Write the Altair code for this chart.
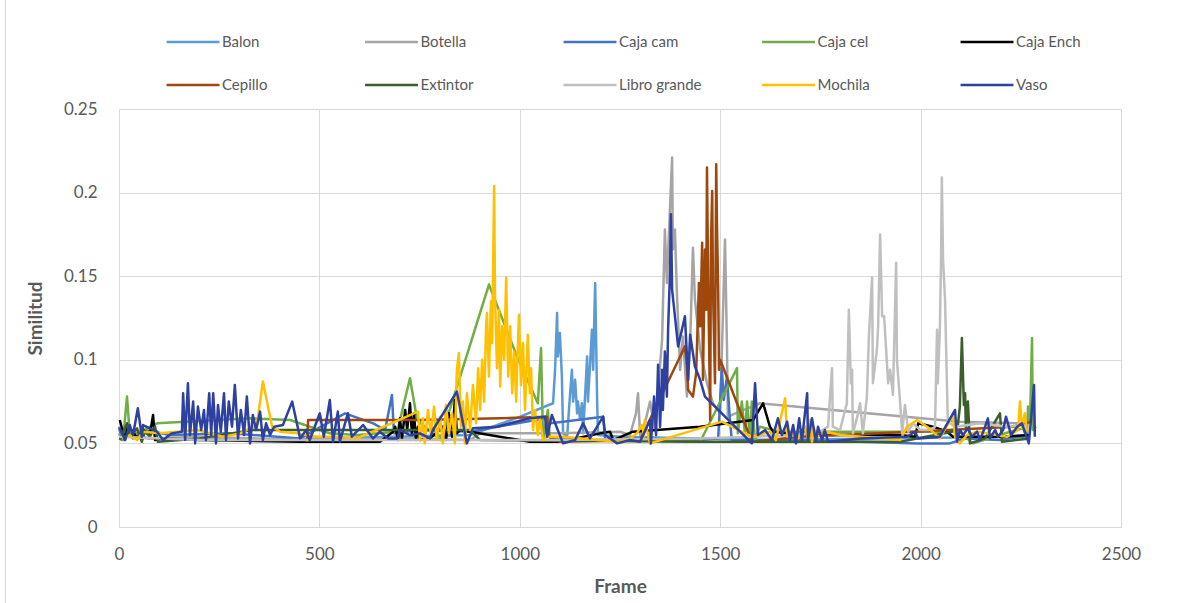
import altair as alt
import pandas as pd

# Similarity per frame for each tracked object
series_names = ["Balon", "Botella", "Caja cam", "Caja cel", "Caja Ench",
                "Cepillo", "Extintor", "Libro grande", "Mochila", "Vaso"]
series_colors = ["#5B9BD5", "#A5A5A5", "#4472C4", "#70AD47", "#000000",
                 "#9E480E", "#3B5E2B", "#BFBFBF", "#FFC000", "#2E40A0"]

balon_frame = [0, 77, 327, 876, 1001, 1083, 1088, 1093, 1095, 1100, 1105, 1108, 1118, 1125, 1130,
               1133, 1138, 1143, 1145, 1150, 1155, 1158, 1168, 1170, 1175, 1180, 1183, 1188, 1193,
               1195, 1250, 1450, 1599, 2273]
balon_sim = [0.055, 0.053, 0.052, 0.055, 0.066, 0.074, 0.094, 0.128, 0.102, 0.116, 0.090, 0.056, 0.054,
             0.078, 0.094, 0.075, 0.088, 0.068, 0.075, 0.065, 0.074, 0.056, 0.102, 0.075, 0.096, 0.118,
             0.094, 0.146, 0.075, 0.055, 0.054, 0.053, 0.052, 0.054]

botella_frame = [0, 77, 202, 452, 701, 876, 901, 1100, 1250, 1275, 1290, 1295, 1300, 1312, 1325, 1337,
                 1355, 1362, 1367, 1380, 1382, 1387, 1392, 1400, 1407, 1417, 1425, 1432, 1437, 1450,
                 1467, 1482, 1500, 1512, 1517, 1519, 1599, 2098, 2248]
botella_sim = [0.056, 0.053, 0.054, 0.052, 0.053, 0.052, 0.056, 0.056, 0.057, 0.055, 0.068, 0.080, 0.055,
               0.062, 0.075, 0.058, 0.112, 0.178, 0.146, 0.221, 0.166, 0.178, 0.140, 0.094, 0.114, 0.078,
               0.110, 0.167, 0.136, 0.106, 0.086, 0.074, 0.068, 0.172, 0.106, 0.066, 0.074, 0.063, 0.062]

cajacam_frame = [0, 7, 22, 35, 65, 127, 277, 452, 564, 634, 664, 681, 686, 751, 876, 1063, 1075, 1108,
                 1208, 1213, 1325, 1450, 1495, 1504, 1509, 1517, 1524, 1529, 1699, 1994, 2073, 2111,
                 2198, 2273]
cajacam_sim = [0.060, 0.052, 0.062, 0.053, 0.058, 0.055, 0.056, 0.053, 0.068, 0.062, 0.058, 0.079, 0.056,
               0.058, 0.057, 0.065, 0.062, 0.063, 0.066, 0.052, 0.053, 0.052, 0.053, 0.095, 0.076, 0.090,
               0.065, 0.052, 0.052, 0.050, 0.050, 0.053, 0.052, 0.055]

cajacel_frame = [0, 10, 20, 27, 52, 95, 327, 427, 526, 594, 694, 726, 744, 801, 833, 923, 993, 1045,
                 1053, 1058, 1070, 1075, 1200, 1450, 1542, 1544, 1554, 1562, 1567, 1574, 1579, 1587,
                 1599, 1649, 2098, 2106, 2131, 2223, 2256, 2265, 2268, 2273, 2278, 2280, 2288]
cajacel_sim = [0.056, 0.052, 0.078, 0.055, 0.057, 0.062, 0.065, 0.064, 0.056, 0.055, 0.057, 0.089, 0.064,
               0.052, 0.076, 0.145, 0.102, 0.074, 0.107, 0.052, 0.070, 0.053, 0.052, 0.051, 0.095, 0.056,
               0.075, 0.055, 0.075, 0.053, 0.075, 0.052, 0.060, 0.057, 0.057, 0.055, 0.050, 0.057, 0.059,
               0.053, 0.072, 0.063, 0.113, 0.058, 0.060]

cajaench_frame = [2, 15, 22, 35, 45, 60, 77, 85, 90, 110, 202, 452, 651, 684, 689, 696, 701, 706, 714,
                  719, 726, 731, 736, 741, 746, 751, 776, 808, 816, 823, 831, 838, 843, 851, 1025, 1100,
                  1200, 1225, 1233, 1282, 1450, 1582, 1607, 1624, 1632, 1699, 1949, 1986, 1994, 2031,
                  2066, 2081, 2198, 2273]
cajaench_sim = [0.064, 0.052, 0.060, 0.057, 0.053, 0.058, 0.055, 0.067, 0.052, 0.053, 0.052, 0.051, 0.051,
                0.057, 0.060, 0.052, 0.065, 0.053, 0.070, 0.058, 0.074, 0.055, 0.068, 0.052, 0.060, 0.052,
                0.053, 0.060, 0.052, 0.068, 0.054, 0.076, 0.056, 0.058, 0.051, 0.051, 0.056, 0.057, 0.052,
                0.057, 0.060, 0.064, 0.074, 0.060, 0.057, 0.055, 0.055, 0.054, 0.062, 0.060, 0.057, 0.054,
                0.054, 0.055]

cepillo_frame = [469, 472, 751, 951, 1068, 1073, 1100, 1300, 1412, 1417, 1420, 1432, 1440, 1447, 1450,
                 1455, 1457, 1462, 1465, 1467, 1470, 1472, 1475, 1477, 1480, 1482, 1487, 1490, 1492,
                 1495, 1497, 1500, 1579, 1699, 1981, 2231, 2278]
cepillo_sim = [0.051, 0.064, 0.064, 0.065, 0.066, 0.054, 0.051, 0.052, 0.108, 0.096, 0.082, 0.078, 0.092,
               0.146, 0.120, 0.170, 0.088, 0.166, 0.130, 0.215, 0.146, 0.114, 0.064, 0.170, 0.201, 0.142,
               0.086, 0.217, 0.180, 0.142, 0.094, 0.100, 0.051, 0.054, 0.057, 0.060, 0.063]

extintor_frame = [2, 20, 27, 45, 57, 65, 77, 90, 97, 202, 334, 551, 876, 901, 1450, 1949, 2078, 2093,
                  2098, 2103, 2108, 2111, 2113, 2118, 2123, 2161, 2198, 2203, 2273]
extintor_sim = [0.052, 0.062, 0.054, 0.059, 0.051, 0.057, 0.054, 0.060, 0.051, 0.053, 0.058, 0.058, 0.058,
                0.052, 0.051, 0.051, 0.057, 0.061, 0.072, 0.113, 0.073, 0.080, 0.059, 0.075, 0.050, 0.053,
                0.068, 0.051, 0.053]

libro_frame = [0, 202, 526, 701, 1100, 1450, 1699, 1749, 1769, 1779, 1781, 1799, 1816, 1821, 1826,
               1829, 1831, 1841, 1849, 1856, 1866, 1871, 1879, 1881, 1891, 1894, 1899, 1904, 1909,
               1914, 1919, 1924, 1931, 1939, 1941, 1949, 1954, 1961, 1969, 1981, 1999, 2023, 2036,
               2041, 2043, 2048, 2051, 2053, 2056, 2061, 2066, 2068, 2086, 2148, 2216, 2260]
libro_sim = [0.054, 0.052, 0.052, 0.052, 0.052, 0.053, 0.055, 0.057, 0.060, 0.095, 0.060, 0.058, 0.074,
             0.130, 0.086, 0.094, 0.056, 0.065, 0.074, 0.056, 0.078, 0.114, 0.149, 0.086, 0.106, 0.120,
             0.175, 0.126, 0.126, 0.106, 0.086, 0.094, 0.079, 0.158, 0.100, 0.074, 0.056, 0.073, 0.057,
             0.062, 0.058, 0.058, 0.060, 0.118, 0.086, 0.118, 0.160, 0.209, 0.160, 0.136, 0.082, 0.063,
             0.060, 0.062, 0.060, 0.061]

mochila_frame = [10, 27, 45, 60, 102, 145, 195, 259, 302, 344, 359, 382, 402, 444, 494, 544, 594,
                 746, 751, 758, 763, 771, 778, 786, 793, 801, 808, 816, 823, 831, 838, 843, 848, 853,
                 858, 863, 868, 876, 883, 891, 896, 901, 906, 911, 916, 918, 923, 928, 931, 936, 938,
                 943, 948, 951, 956, 961, 966, 971, 976, 981, 986, 991, 993, 998, 1003, 1008, 1013,
                 1020, 1025, 1028, 1033, 1038, 1045, 1050, 1058, 1068, 1108, 1193, 1250, 1275, 1292,
                 1305, 1310, 1312, 1320, 1325, 1504, 1579, 1624, 1639, 1662, 1667, 1679, 1694, 1712,
                 1719, 1724, 1729, 1732, 1742, 1766, 1799, 1949, 1966, 1991, 2016, 2048, 2081, 2086,
                 2098, 2116, 2141, 2191, 2216, 2243, 2248, 2253, 2260, 2265]
mochila_sim = [0.053, 0.055, 0.052, 0.057, 0.056, 0.057, 0.058, 0.054, 0.056, 0.061, 0.087, 0.060, 0.057,
               0.056, 0.054, 0.054, 0.053,
               0.069, 0.052, 0.065, 0.050, 0.070, 0.055, 0.072, 0.052, 0.066, 0.050, 0.073, 0.056, 0.068,
               0.050, 0.094, 0.104, 0.060, 0.075, 0.050, 0.080, 0.058, 0.085, 0.062, 0.095, 0.070, 0.100,
               0.075, 0.120, 0.128, 0.090, 0.135, 0.110, 0.204, 0.140, 0.095, 0.130, 0.084, 0.120, 0.100,
               0.149, 0.090, 0.120, 0.080, 0.105, 0.075, 0.094, 0.127, 0.085, 0.110, 0.070, 0.115, 0.080,
               0.095, 0.058, 0.070, 0.055, 0.065, 0.052, 0.054, 0.054, 0.052, 0.051, 0.053, 0.056, 0.061,
               0.054, 0.064, 0.055, 0.050, 0.063, 0.054, 0.057, 0.052, 0.077, 0.054, 0.057, 0.053, 0.060,
               0.053, 0.064, 0.051, 0.060, 0.054, 0.057, 0.055, 0.052, 0.060, 0.064, 0.060, 0.053, 0.067,
               0.054, 0.050, 0.055, 0.057, 0.055, 0.054, 0.058, 0.075, 0.059, 0.068, 0.057]

vaso_frame = [2, 15, 27, 35, 47, 57, 60, 95, 110, 132, 157, 160, 165, 172, 177, 185, 190, 197, 205,
              212, 217, 225, 230, 235, 242, 247, 254, 262, 267, 274, 282, 289, 297, 304, 312, 319,
              327, 334, 342, 352, 359, 367, 377, 387, 409, 432, 452, 467, 476, 501, 511, 526, 534,
              546, 551, 571, 581, 609, 634, 651, 671, 694, 701, 726, 751, 776, 783, 843, 868, 883,
              943, 1025, 1063, 1068, 1080, 1108, 1138, 1158, 1175, 1208, 1213, 1243, 1275, 1300,
              1325, 1327, 1335, 1340, 1345, 1350, 1355, 1357, 1362, 1367, 1370, 1375, 1377, 1380,
              1395, 1412, 1420, 1425, 1437, 1450, 1462, 1579, 1587, 1594, 1612, 1629, 1644, 1654,
              1667, 1674, 1682, 1689, 1697, 1704, 1717, 1719, 1729, 1739, 1744, 1754, 1761, 1769,
              1849, 1966, 1986, 1994, 2048, 2086, 2091, 2098, 2106, 2118, 2128, 2141, 2148, 2161,
              2168, 2173, 2186, 2193, 2206, 2213, 2226, 2241, 2253, 2263, 2270, 2275, 2283, 2285]
vaso_sim = [0.059, 0.052, 0.061, 0.055, 0.071, 0.054, 0.061, 0.057, 0.052, 0.056, 0.057, 0.080, 0.052,
            0.086, 0.055, 0.075, 0.050, 0.072, 0.058, 0.070, 0.052, 0.080, 0.055, 0.080, 0.050, 0.073,
            0.057, 0.080, 0.052, 0.075, 0.060, 0.085, 0.053, 0.070, 0.055, 0.078, 0.050, 0.067, 0.058,
            0.069, 0.052, 0.062, 0.055, 0.060, 0.061, 0.075, 0.053, 0.058, 0.052, 0.068, 0.054, 0.076,
            0.051, 0.069, 0.051, 0.068, 0.054, 0.061, 0.053, 0.057, 0.053, 0.053, 0.058, 0.055, 0.056,
            0.053, 0.058, 0.081, 0.050, 0.059, 0.060, 0.065, 0.066, 0.054, 0.067, 0.050, 0.052, 0.062,
            0.053, 0.066, 0.055, 0.050, 0.052, 0.051, 0.064, 0.050, 0.078, 0.055, 0.097, 0.060, 0.094,
            0.070, 0.105, 0.078, 0.118, 0.154, 0.187, 0.142, 0.108, 0.126, 0.088, 0.115, 0.096, 0.088,
            0.078, 0.050, 0.086, 0.055, 0.058, 0.052, 0.065, 0.055, 0.063, 0.052, 0.061, 0.050, 0.065,
            0.052, 0.080, 0.052, 0.065, 0.051, 0.060, 0.052, 0.058, 0.051, 0.053, 0.054, 0.057, 0.053,
            0.054, 0.070, 0.051, 0.058, 0.055, 0.059, 0.054, 0.057, 0.052, 0.060, 0.065, 0.053, 0.058,
            0.054, 0.058, 0.066, 0.055, 0.060, 0.062, 0.055, 0.050, 0.063, 0.085, 0.054]

frames_by_series = [balon_frame, botella_frame, cajacam_frame, cajacel_frame, cajaench_frame,
                    cepillo_frame, extintor_frame, libro_frame, mochila_frame, vaso_frame]
sims_by_series = [balon_sim, botella_sim, cajacam_sim, cajacel_sim, cajaench_sim,
                  cepillo_sim, extintor_sim, libro_sim, mochila_sim, vaso_sim]

rows = []
for name, frames, sims in zip(series_names, frames_by_series, sims_by_series):
    for i, (f, s) in enumerate(zip(frames, sims)):
        rows.append({"serie": name, "frame": f, "sim": s, "idx": i})
df = pd.DataFrame(rows)

x_ticks = [0, 500, 1000, 1500, 2000, 2500]
y_ticks = [0, 0.05, 0.1, 0.15, 0.2, 0.25]

axis_font = "Lato"
text_color = "#595959"

lines = (
    alt.Chart(df)
    .mark_line(strokeWidth=2.5, strokeJoin="round")
    .encode(
        x=alt.X("frame:Q", title="Frame",
                scale=alt.Scale(domain=[0, 2500], nice=False),
                axis=alt.Axis(values=x_ticks, format="d", labelFlush=False,
                              labelPadding=19, titlePadding=15)),
        y=alt.Y("sim:Q", title="Similitud",
                scale=alt.Scale(domain=[0, 0.25], nice=False),
                axis=alt.Axis(values=y_ticks, format="~g", labelFlush=False,
                              labelPadding=22, titlePadding=18)),
        color=alt.Color("serie:N",
                        scale=alt.Scale(domain=series_names, range=series_colors),
                        legend=alt.Legend(title=None, orient="none", legendX=46, legendY=-95,
                                          direction="horizontal", columns=5,
                                          symbolType="stroke", symbolSize=2800,
                                          symbolStrokeWidth=2.5, labelFontSize=15,
                                          labelColor=text_color, labelFont=axis_font,
                                          gridAlign="all", columnPadding=54.5, rowPadding=7,
                                          labelOffset=1)),
        order=alt.Order("idx:Q"),
    )
)

# thin frame line along the left edge of the chart area
border = alt.Chart(df).mark_rule(color="#D9D9D9", strokeWidth=1).encode(
    x=alt.value(-113.5), y=alt.value(-109), y2=alt.value(494)
)

chart = (
    alt.layer(border, lines)
    .properties(width=1002, height=418, background="white",
                autosize=alt.AutoSizeParams(type="none"),
                padding={"left": 119, "top": 109, "right": 56, "bottom": 76})
    .configure_view(stroke=None)
    .configure_axis(
        grid=True, gridColor="#D9D9D9", gridWidth=1,
        domain=False, ticks=False,
        labelFont=axis_font, labelFontSize=17, labelColor=text_color,
        titleFont=axis_font, titleFontSize=19, titleColor=text_color, titleFontWeight="bold",
    )
)

chart.save("out.html", embed_options={"renderer": "svg", "actions": False})
